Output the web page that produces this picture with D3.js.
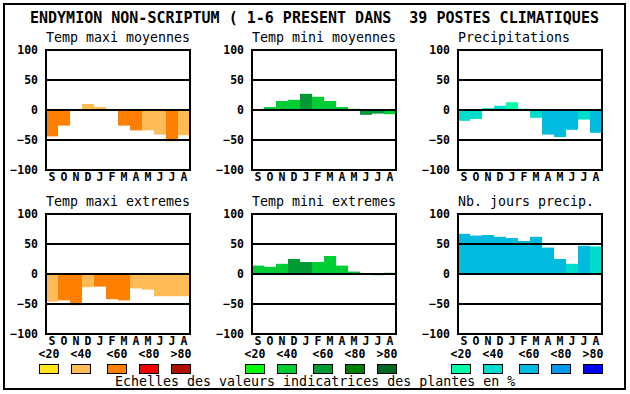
<!DOCTYPE html>
<html>
<head>
<meta charset="utf-8">
<script src="https://cdn.jsdelivr.net/npm/d3@7"></script>
<style>
  body { margin: 0; background: #fff; }
  text { font-family: "DejaVu Sans Mono", monospace; white-space: pre; }
</style>
</head>
<body>
<div id="chart"></div>
<script>
const title = "ENDYMION NON-SCRIPTUM ( 1-6 PRESENT DANS  39 POSTES CLIMATIQUES";
const months = ["S", "O", "N", "D", "J", "F", "M", "A", "M", "J", "J", "A"];
const yTicks = [-100, -50, 0, 50, 100];
const legendLabels = ["<20", "<40", "<60", "<80", ">80"];
const footer = "Echelles des valeurs indicatrices des plantes en %";

const panelTitles = ["Temp maxi moyennes", "Temp mini moyennes", "Precipitations",
                     "Temp maxi extremes", "Temp mini extremes", "Nb. jours precip."];

// values per month, and the colour class (0..4) of each bar
const maxiMoy = [-44, -26, 0, 10, 5, 0, -26, -34, -34, -41, -52, -42];
const maxiMoyCls = [2, 2, 1, 1, 1, 1, 2, 2, 1, 1, 2, 1];
const miniMoy = [0, 5, 15, 17, 27, 22, 15, 5, 2, -8, -6, -7];
const miniMoyCls = [1, 1, 1, 1, 2, 1, 1, 1, 1, 2, 2, 1];
const precip = [-18, -15, 3, 7, 13, 2, -13, -41, -45, -33, -16, -38];
const precipCls = [1, 1, 1, 1, 0, 1, 1, 2, 2, 2, 1, 2];
const maxiExt = [-46, -44, -52, -22, -21, -42, -44, -24, -26, -37, -37, -37];
const maxiExtCls = [1, 2, 2, 1, 2, 2, 2, 1, 1, 1, 1, 1];
const miniExt = [14, 12, 17, 25, 20, 20, 30, 14, 4, 0, -2, 2];
const miniExtCls = [1, 1, 1, 2, 2, 1, 1, 1, 1, 1, 1, 1];
const nbJours = [67, 64, 65, 62, 60, 55, 62, 44, 25, 17, 47, 46];
const nbJoursCls = [2, 2, 2, 2, 2, 2, 2, 2, 2, 1, 2, 1];

const orangeScale = ["#ffe619", "#ffbb55", "#ff8000", "#ee0000", "#b01000"];
const greenScale = ["#00ff00", "#00cc33", "#009933", "#008000", "#006622"];
const blueScale = ["#00ffaa", "#00ddcc", "#00bbdd", "#0099ee", "#0000ff"];

const svg = d3.select("#chart")
    .append("svg")
    .attr("width", 630)
    .attr("height", 394);

svg.append("rect")
    .attr("x", 4)
    .attr("y", 4)
    .attr("width", 621)
    .attr("height", 385)
    .attr("fill", "none")
    .attr("stroke", "#000")
    .attr("stroke-width", 2);

svg.append("text")
    .attr("x", 30)
    .attr("y", 23)
    .attr("font-size", "15px")
    .attr("font-weight", "bold")
    .text(title);

const colLeft = [46, 252, 458];
const rowTop = [50, 214];
const plotW = 144;
const plotH = 120;

function drawPanel(col, row, name, values, classes, palette) {
    const left = colLeft[col];
    const top = rowTop[row];

    const xScale = d3.scaleBand()
        .domain(d3.range(months.length))
        .range([left, left + plotW])
        .padding(0);

    const yScale = d3.scaleLinear()
        .domain([-100, 100])
        .range([top + plotH, top]);

    const g = svg.append("g");

    g.append("text")
        .attr("x", left)
        .attr("y", top - 8)
        .attr("font-size", "13.3px")
        .text(name);

    g.selectAll("rect.bar")
        .data(values)
        .enter()
        .append("rect")
        .attr("class", "bar")
        .attr("x", (d, i) => xScale(i))
        .attr("y", d => yScale(Math.max(d, 0)))
        .attr("width", xScale.bandwidth())
        .attr("height", d => Math.abs(yScale(d) - yScale(0)))
        .attr("fill", (d, i) => palette[classes[i]]);

    g.selectAll("line.grid")
        .data([-50, 0, 50])
        .enter()
        .append("line")
        .attr("class", "grid")
        .attr("x1", left)
        .attr("x2", left + plotW)
        .attr("y1", d => yScale(d))
        .attr("y2", d => yScale(d))
        .attr("stroke", "#000")
        .attr("stroke-width", 2);

    g.append("rect")
        .attr("x", left)
        .attr("y", top)
        .attr("width", plotW)
        .attr("height", plotH)
        .attr("fill", "none")
        .attr("stroke", "#000")
        .attr("stroke-width", 2);

    const yAxis = g.append("g")
        .attr("transform", `translate(${left - 2}, 0)`)
        .call(d3.axisLeft(yScale).tickValues(yTicks).tickSize(0).tickPadding(6));
    yAxis.select(".domain").remove();
    yAxis.selectAll("text")
        .attr("font-family", "DejaVu Sans Mono")
        .attr("font-size", "11.5px")
        .attr("font-weight", "bold")
        .attr("fill", "#000");

    const xAxis = g.append("g")
        .attr("transform", `translate(0, ${top + plotH})`)
        .call(d3.axisBottom(xScale).tickFormat(i => months[i]).tickSize(0).tickPadding(3));
    xAxis.select(".domain").remove();
    xAxis.selectAll("text")
        .attr("font-family", "DejaVu Sans Mono")
        .attr("font-size", "11.5px")
        .attr("font-weight", "bold")
        .attr("fill", "#000");
}

drawPanel(0, 0, panelTitles[0], maxiMoy, maxiMoyCls, orangeScale);
drawPanel(1, 0, panelTitles[1], miniMoy, miniMoyCls, greenScale);
drawPanel(2, 0, panelTitles[2], precip, precipCls, blueScale);
drawPanel(0, 1, panelTitles[3], maxiExt, maxiExtCls, orangeScale);
drawPanel(1, 1, panelTitles[4], miniExt, miniExtCls, greenScale);
drawPanel(2, 1, panelTitles[5], nbJours, nbJoursCls, blueScale);

// legends under each column
const legendOffset = [-7, 25, 61, 93, 125];
[orangeScale, greenScale, blueScale].forEach((palette, col) => {
    const lg = svg.append("g");
    lg.selectAll("text")
        .data(legendLabels)
        .enter()
        .append("text")
        .attr("x", (d, i) => colLeft[col] + legendOffset[i] + 10)
        .attr("y", 358)
        .attr("text-anchor", "middle")
        .attr("font-size", "11.5px")
        .attr("font-weight", "bold")
        .text(d => d);
    lg.selectAll("rect")
        .data(palette)
        .enter()
        .append("rect")
        .attr("x", (d, i) => colLeft[col] + legendOffset[i] + 0.5)
        .attr("y", 364.5)
        .attr("width", 19)
        .attr("height", 9)
        .attr("fill", d => d)
        .attr("stroke", "#000")
        .attr("stroke-width", 1);
});

svg.append("text")
    .attr("x", 115)
    .attr("y", 386)
    .attr("font-size", "13.3px")
    .text(footer);
</script>
</body>
</html>
